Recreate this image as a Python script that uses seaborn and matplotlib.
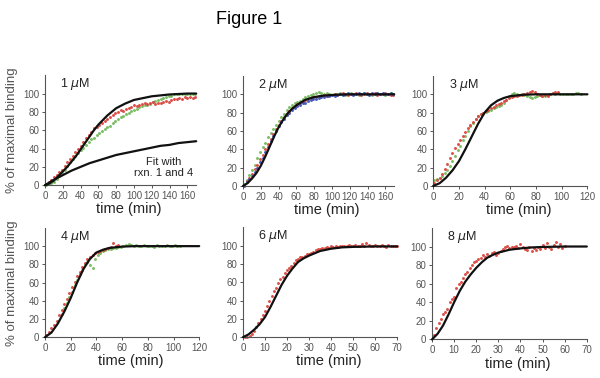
import matplotlib
matplotlib.use("Agg")
import matplotlib.pyplot as plt
import seaborn as sns

sns.set_style("ticks")
plt.rcParams['font.family'] = ['Liberation Sans', 'DejaVu Sans']

# ---------------- data ----------------
title = "Figure 1"
panel_labels = [r"1 $\mu$M", r"2 $\mu$M", r"3 $\mu$M", r"4 $\mu$M", r"6 $\mu$M", r"8 $\mu$M"]
xmax = [170, 170, 120, 120, 70, 70]
xtick_step = [20, 20, 20, 20, 10, 10]
yticks = [0, 20, 40, 60, 80, 100]

# panel 1 (1 uM)
p1_fit_t = [0, 5, 10, 15, 20, 25, 30, 35, 40, 45, 50, 55, 60, 70, 80, 90, 100, 110, 120, 130, 140, 150, 160, 170]
p1_fit_y = [0, 2, 5, 10, 15, 20, 26, 32, 39, 46, 53, 60, 66, 76, 84, 89, 93, 95, 97, 98, 99, 99.5, 100, 100]
p1_fit2_t = [0, 10, 20, 30, 40, 50, 60, 70, 80, 90, 100, 110, 120, 130, 140, 150, 160, 170]
p1_fit2_y = [0, 6, 11, 16, 20, 24, 27, 30, 33, 35, 37, 39, 41, 43, 44, 46, 47, 48]
p1_t = [1, 4, 7, 10, 13, 16, 19, 22, 25, 28, 31, 34, 37, 40, 43, 46, 49, 52, 55, 58, 61, 64, 67, 70,
        73, 76, 79, 82, 85, 88, 91, 94, 97, 100, 103, 106, 109, 112, 115, 118, 121, 124, 127, 130,
        133, 136, 139, 142, 145, 148, 151, 154, 157, 160, 163, 166, 169]
p1_red = [1, 4, 6, 9, 11, 14, 17, 21, 25, 29, 32, 36, 40, 43, 47, 51, 55, 58, 62, 64, 66, 68, 70, 72,
          74, 77, 79, 80, 82, 81, 83, 84, 85, 87, 86, 88, 89, 90, 89, 90, 91, 89, 90, 90,
          91, 92, 91, 93, 94, 94, 95, 94, 96, 95, 96, 95, 96]
p1_green = [0, 1, 2, 4, 7, 10, 13, 17, 21, 25, 29, 32, 35, 38, 41, 44, 47, 50, 52, 55, 57, 59, 61, 63,
            65, 68, 70, 72, 74, 76, 78, 79, 81, 82, 83, 85, 86, 87, 88, 89, 91, 92, 93, 94,
            95, 96, 97, 97, 99, 100, 99, 100, 99, 100, 99, 100, 99]

# panel 2 (2 uM)
p2_fit_t = [0, 5, 10, 15, 20, 25, 30, 35, 40, 45, 50, 55, 60, 70, 80, 90, 100, 110, 120, 140, 170]
p2_fit_y = [0, 3, 8, 14, 22, 32, 43, 54, 64, 72, 79, 84, 88, 94, 97, 98.5, 99.3, 99.7, 100, 100, 100]
p2_t = p1_t
p2_green = [2, 7, 12, 17, 23, 30, 37, 42, 47, 53, 58, 62, 67, 71, 75, 79, 83, 86, 88, 90, 92, 93, 95, 97,
            98, 99, 100, 101, 102, 101, 100, 101, 100, 99, 100, 100, 101, 100, 99, 100, 101, 100, 100, 99,
            100, 101, 100, 100, 99, 100, 101, 100, 100, 99, 100, 101, 100]
p2_red = [1, 5, 9, 13, 18, 23, 29, 34, 40, 46, 51, 57, 62, 67, 71, 75, 79, 82, 85, 87, 89, 91, 92, 94,
          95, 96, 97, 97, 98, 98, 99, 98, 99, 99, 100, 99, 100, 101, 100, 99, 100, 100, 101, 100,
          99, 100, 101, 100, 100, 101, 99, 100, 100, 101, 100, 99, 99]
p2_blue = [0, 4, 8, 11, 15, 20, 26, 31, 37, 43, 49, 55, 60, 65, 70, 73, 77, 80, 83, 85, 87, 88, 90, 91,
           93, 94, 95, 95, 96, 97, 97, 98, 98, 99, 98, 99, 100, 99, 100, 101, 100, 99, 100, 101,
           100, 101, 100, 99, 101, 100, 101, 100, 101, 100, 100, 101, 100]

# panel 3 (3 uM)
p3_fit_t = [0, 5, 10, 15, 20, 25, 30, 35, 40, 45, 50, 55, 60, 70, 80, 90, 100, 120]
p3_fit_y = [0, 3, 9, 17, 27, 40, 54, 68, 80, 88, 93, 96, 98, 99.5, 100, 100, 100, 100]
p3_red_t = [1, 3, 5, 7, 9, 11, 13, 15, 17, 19, 21, 23, 25, 27, 29, 31, 33, 35, 37, 39, 41, 43, 45, 47,
            49, 51, 53, 55, 57, 59, 61, 63, 65, 67, 69, 71, 73, 75, 77, 79, 81, 83, 85, 87, 89, 91, 93, 95, 97]
p3_red = [3, 6, 9, 13, 18, 24, 30, 36, 41, 46, 50, 55, 59, 63, 67, 70, 73, 76, 78, 80, 82, 83, 85, 86,
          88, 89, 91, 93, 94, 96, 97, 98, 98, 99, 99, 100, 101, 103, 104, 102, 100, 99, 98, 99, 98, 100, 101, 102, 103]
p3_green_t = [1, 3, 5, 7, 9, 11, 13, 15, 17, 19, 21, 23, 25, 27, 29, 31, 33, 35, 37, 39, 41, 43, 45, 47,
              49, 51, 53, 55, 57, 59, 61, 63, 65, 67, 69, 71, 73, 75, 77, 79, 81, 83, 85, 87, 89, 91, 93, 95,
              97, 99, 101, 103, 105, 107, 109, 111, 113, 115]
p3_green = [6, 8, 9, 11, 14, 17, 22, 27, 33, 39, 44, 50, 55, 60, 65, 69, 73, 76, 78, 80, 81, 82, 83, 85,
            86, 87, 88, 91, 94, 97, 100, 101, 100, 99, 100, 99, 98, 97, 96, 97, 98, 99, 98, 98, 99, 100, 101, 100,
            101, 100, 100, 100, 100, 100, 100, 101, 101, 100]

# panel 4 (4 uM)
p4_fit_t = [0, 5, 10, 15, 20, 25, 30, 35, 40, 45, 50, 60, 70, 80, 100, 120]
p4_fit_y = [0, 5, 15, 28, 43, 60, 75, 86, 93, 96, 98, 99.5, 100, 100, 100, 100]
p4_red_t = [1, 3, 5, 7, 9, 11, 13, 15, 17, 19, 21, 23, 25, 27, 29, 31, 33, 35, 37, 39, 41, 43, 45, 47,
            49, 51, 53, 55, 57]
p4_red = [2, 6, 10, 13, 18, 24, 30, 36, 42, 48, 55, 61, 67, 72, 77, 82, 86, 88, 90, 92, 94, 95, 96, 97,
          98, 99, 103, 100, 101]
p4_green_t = [13, 15, 17, 19, 21, 23, 25, 27, 29, 31, 33, 35, 37, 39, 41, 43, 45, 47, 49, 51, 53, 55, 57, 59,
              61, 63, 65, 67, 69, 71, 73, 75, 77, 79, 81, 83, 85, 87, 89, 91, 93, 95, 97, 99, 101, 103, 105]
p4_green = [25, 32, 38, 44, 50, 57, 63, 69, 74, 80, 83, 79, 76, 86, 90, 93, 95, 96, 97, 97, 98, 98, 99, 99,
            100, 101, 102, 101, 100, 101, 100, 100, 101, 100, 100, 100, 99, 101, 100, 100, 100, 101, 100, 100, 101, 100, 100]

# panel 5 (6 uM)
p5_fit_t = [0, 2.5, 5, 7.5, 10, 12.5, 15, 17.5, 20, 22.5, 25, 27.5, 30, 35, 40, 45, 50, 60, 70]
p5_fit_y = [0, 3, 8, 14, 22, 33, 45, 57, 67, 75, 82, 86, 89, 94, 96.5, 98, 98.5, 99, 99]
p5_t = [1, 2, 3, 4, 5, 6, 7, 8, 9, 10, 11, 12, 13, 14, 15, 16, 17, 18, 19, 20, 21, 22, 23, 24, 25, 26, 27, 28,
        29, 30, 31, 32, 33, 34, 35, 36, 37, 38, 39, 40, 41, 42, 43, 44, 45, 46, 47, 48, 49, 50, 51, 52, 53, 54,
        55, 56, 57, 58, 59, 60, 61, 62, 63, 64, 65, 66, 67, 68, 69, 70]
p5_red = [0, 0, 1, 4, 7, 11, 15, 20, 24, 29, 34, 40, 45, 50, 54, 59, 63, 66, 70, 73, 76, 78, 81, 84, 85, 87, 88, 89,
          91, 91, 92, 93, 95, 96, 96, 97, 97, 98, 97, 99, 98, 99, 98, 99, 100, 99, 100, 101, 99, 100, 101, 99, 100, 102,
          100, 103, 101, 100, 99, 101, 100, 99, 101, 100, 98, 101, 99, 100, 99, 100]

# panel 6 (8 uM)
p6_fit_t = [0, 2.5, 5, 7.5, 10, 12.5, 15, 17.5, 20, 22.5, 25, 27.5, 30, 35, 40, 45, 50, 60, 70]
p6_fit_y = [0, 6, 15, 27, 40, 52, 62, 70, 77, 83, 88, 91, 93.5, 96.5, 98, 99, 99.5, 100, 100]
p6_t = [1, 2, 3, 4, 5, 6, 7, 8, 9, 10, 11, 12, 13, 14, 15, 16, 17, 18, 19, 20, 21, 22, 23, 24, 25, 26, 27, 28,
        29, 30, 31, 32, 33, 34, 35, 36, 37, 38, 39, 40, 41, 42, 43, 44, 45, 46, 47, 48, 49, 50, 51, 52, 53, 54,
        55, 56, 57, 58, 59, 60]
p6_red = [5, 12, 18, 22, 27, 30, 33, 40, 44, 46, 55, 60, 62, 66, 70, 73, 77, 80, 83, 84, 87, 88, 91, 89, 92, 90, 93, 94,
          91, 93, 95, 97, 99, 101, 98, 100, 99, 101, 98, 103, 99, 97, 96, 99, 95, 98, 96, 99, 97, 102, 98, 104, 100, 97,
          102, 105, 99, 103, 98, 101]

RED = "#d9463f"
GREEN = "#74ba5c"
BLUE = "#3f55b8"

panels = [
    dict(fits=[(p1_fit_t, p1_fit_y), (p1_fit2_t, p1_fit2_y)],
         dots=[(p1_t, p1_green, GREEN), (p1_t, p1_red, RED)]),
    dict(fits=[(p2_fit_t, p2_fit_y)],
         dots=[(p2_t, p2_green, GREEN), (p2_t, p2_red, RED), (p2_t, p2_blue, BLUE)]),
    dict(fits=[(p3_fit_t, p3_fit_y)],
         dots=[(p3_green_t, p3_green, GREEN), (p3_red_t, p3_red, RED)]),
    dict(fits=[(p4_fit_t, p4_fit_y)],
         dots=[(p4_green_t, p4_green, GREEN), (p4_red_t, p4_red, RED)]),
    dict(fits=[(p5_fit_t, p5_fit_y)],
         dots=[(p5_t, p5_red, RED)]),
    dict(fits=[(p6_fit_t, p6_fit_y)],
         dots=[(p6_t, p6_red, RED)]),
]

# ---------------- layout ----------------
fig = plt.figure(figsize=(6.0, 3.78), dpi=100)
rects = [
    [0.075, 0.510, 0.252, 0.291],
    [0.405, 0.508, 0.252, 0.291],
    [0.722, 0.508, 0.257, 0.291],
    [0.075, 0.108, 0.257, 0.289],
    [0.405, 0.108, 0.257, 0.291],
    [0.720, 0.102, 0.258, 0.295],
]

AXC = "#555555"
for i, (rect, p) in enumerate(zip(rects, panels)):
    ax = fig.add_axes(rect)
    for (tx, ty, col) in p["dots"]:
        sns.scatterplot(x=tx, y=ty, ax=ax, color=col, s=4.5, linewidth=0, alpha=0.95,
                        legend=False, zorder=2, clip_on=False)
    for (ft, fy) in p["fits"]:
        sns.lineplot(x=ft, y=fy, ax=ax, color="#111111", linewidth=1.6,
                     legend=False, zorder=3, clip_on=False)
    ax.set_xlim(0, xmax[i])
    ax.set_ylim(0, 120)
    ax.set_yticks(yticks)
    ax.set_xticks(list(range(0, xmax[i] + 1, xtick_step[i])))
    sns.despine(ax=ax)
    for s in ["left", "bottom"]:
        ax.spines[s].set_color(AXC)
        ax.spines[s].set_linewidth(0.8)
    ax.tick_params(axis="both", labelsize=7, colors=AXC, length=2.5, width=0.7, pad=1.5)
    ax.set_xlabel("time (min)", fontsize=10.5, color="#222222")
    ax.xaxis.set_label_coords(0.555, -0.155)
    ax.set_ylabel("")
    ax.text(0.10, 0.92, panel_labels[i], transform=ax.transAxes, fontsize=9,
            color="#222222", ha="left", va="center")
    if i == 0:
        ax.text(133, 25, "Fit with", fontsize=8, color="#222222", ha="center", va="center")
        ax.text(133, 13, "rxn. 1 and 4", fontsize=8, color="#222222", ha="center", va="center")

fig.text(0.02, 0.656, "% of maximal binding", rotation=90, ha="center", va="center",
         fontsize=9.5, color=AXC)
fig.text(0.02, 0.25, "% of maximal binding", rotation=90, ha="center", va="center",
         fontsize=9.5, color=AXC)
fig.text(0.416, 0.948, title, ha="center", va="center", fontsize=13, color="black")

fig.savefig("out.png", dpi=100)
